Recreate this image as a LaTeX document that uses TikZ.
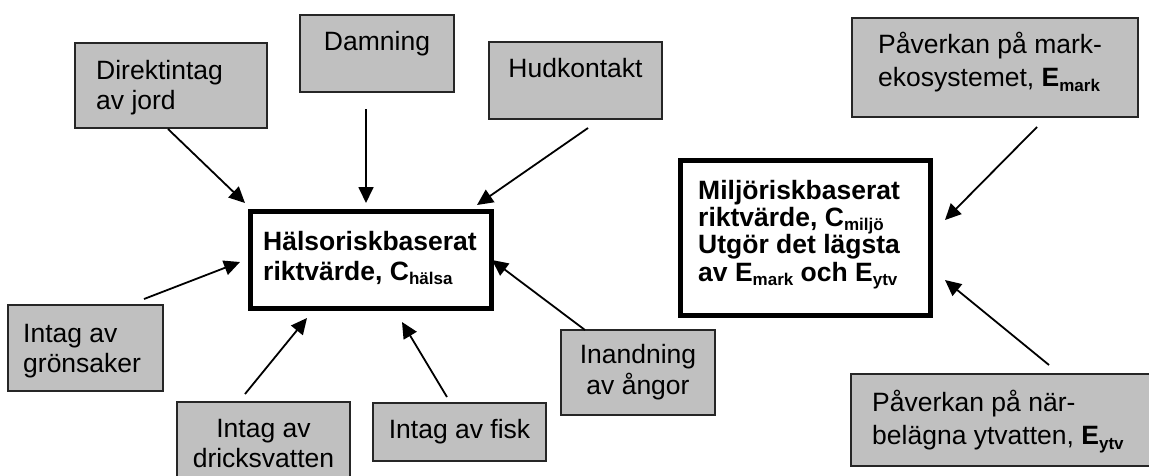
\documentclass[tikz,border=0pt]{standalone}
\usepackage{fontspec}
\setmainfont{Liberation Sans}
\usetikzlibrary{arrows.meta}
\definecolor{boxgray}{RGB}{192,192,192}
\newcommand\subtext[1]{\raisebox{-4.5pt}{\fontsize{17}{17}\selectfont #1}}
\begin{document}
\begin{tikzpicture}[x=1pt,y=-1pt,
  gbox/.style={draw=black!85, line width=1.3pt, fill=boxgray, inner sep=0pt},
  mbox/.style={draw=black, line width=5pt, fill=white, inner sep=0pt},
  txt/.style={inner sep=0pt, font=\fontsize{26.5}{30}\selectfont},
  arr/.style={line width=1.8pt, -{Triangle[length=16pt,width=15pt]}}]
\useasboundingbox (0,0) rectangle (1149,475);
% boxes
\path[gbox] (75,43) rectangle (267,128);
\node[txt, anchor=north west, align=left] (dir) at (96,58) {\strut Direktintag\\av jord};
\path[gbox] (300,15) rectangle (454,92);
\node[txt, anchor=north, align=center] (dam) at (377,29) {\strut Damning};
\path[gbox] (489,42) rectangle (662,119);
\node[txt, anchor=north, align=center] (hud) at (575.5,56) {\strut Hudkontakt};
\path[gbox] (852,18) rectangle (1138,117);
\node[txt, anchor=north west, align=left] (mark) at (878,32) {\strut Påverkan på mark-\\[3pt]ekosystemet, \textbf{E\subtext{mark}}};
\path[mbox] (250,211) rectangle (491,308);
\node[txt, anchor=north west, align=left, font=\fontsize{26.5}{30}\selectfont\bfseries] (halsa) at (263,229) {\strut Hälsoriskbaserat\\riktvärde, C\subtext{hälsa}};
\path[mbox] (680,160) rectangle (930,315);
\node[txt, anchor=north west, align=left, font=\fontsize{26.5}{30}\selectfont\bfseries] (miljo) at (698,178) {\strut Miljöriskbaserat\\[-3pt]riktvärde, C\subtext{miljö}\\[-2.5pt]Utgör det lägsta\\[-2.5pt]av E\subtext{mark} och E\subtext{ytv}};
\path[gbox] (8,305) rectangle (163,391);
\node[txt, anchor=north west, align=left] (gron) at (23,321) {\strut Intag av\\grönsaker};
\path[gbox] (177,402) rectangle (350,485);
\node[txt, anchor=north, align=center] (drick) at (263.5,416) {\strut Intag av\\dricksvatten};
\path[gbox] (373,403) rectangle (546,461);
\node[txt, anchor=north, align=center] (fisk) at (459.5,417) {\strut Intag av fisk};
\path[gbox] (561,330) rectangle (715,415);
\node[txt, anchor=north, align=center] (inand) at (638,342) {\strut Inandning\\av ångor};
\path[gbox] (851,374) rectangle (1155,466);
\node[txt, anchor=north west, align=left] (nar) at (872,390) {\strut Påverkan på när-\\[3pt]belägna ytvatten, \textbf{E\subtext{ytv}}};
% connector end points
\coordinate (dirS) at (168,129);   \coordinate (dirE) at (245,203);
\coordinate (damS) at (366,109);   \coordinate (damE) at (366,203);
\coordinate (hudS) at (588,128);   \coordinate (hudE) at (477,205);
\coordinate (gronS) at (144,299);  \coordinate (gronE) at (240,262);
\coordinate (drickS) at (245,394); \coordinate (drickE) at (307,318);
\coordinate (fiskS) at (447,397);  \coordinate (fiskE) at (402,322);
\coordinate (inandS) at (585,330); \coordinate (inandE) at (492,260);
\coordinate (markS) at (1037,127); \coordinate (markE) at (945,220);
\coordinate (narS) at (1049,365);  \coordinate (narE) at (945,280);
\draw[arr] (dirS) -- (dirE);
\draw[arr] (damS) -- (damE);
\draw[arr] (hudS) -- (hudE);
\draw[arr] (gronS) -- (gronE);
\draw[arr] (drickS) -- (drickE);
\draw[arr] (fiskS) -- (fiskE);
\draw[arr] (inandS) -- (inandE);
\draw[arr] (markS) -- (markE);
\draw[arr] (narS) -- (narE);
\end{tikzpicture}
\end{document}
